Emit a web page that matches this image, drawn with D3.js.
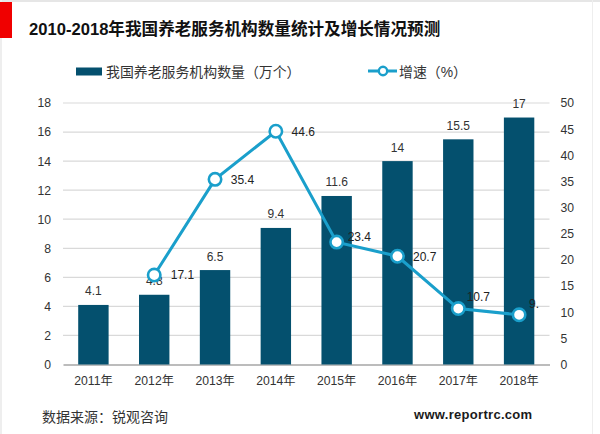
<!DOCTYPE html>
<html>
<head>
<meta charset="utf-8">
<script src="https://cdnjs.cloudflare.com/ajax/libs/d3/7.8.5/d3.min.js"></script>
<style>
html, body { margin: 0; padding: 0; background: #fff; }
svg { display: block; }
svg text { font-family: "Liberation Sans", "Noto Sans CJK SC", sans-serif; }
</style>
</head>
<body>
<svg id="chart"></svg>
<script>
var years = ["2011年", "2012年", "2013年", "2014年", "2015年", "2016年", "2017年", "2018年"];
var counts = [4.1, 4.8, 6.5, 9.4, 11.6, 14, 15.5, 17];
var growth = [null, 17.1, 35.4, 44.6, 23.4, 20.7, 10.7, 9.5];
var growthLabels = ["", "17.1", "35.4", "44.6", "23.4", "20.7", "10.7", "9."];
var leftTicks = [0, 2, 4, 6, 8, 10, 12, 14, 16, 18];
var rightTicks = [0, 5, 10, 15, 20, 25, 30, 35, 40, 45, 50];

var width = 600, height = 434;
var barColor = "#04506E", lineColor = "#1A9FCB", textColor = "#333";

var svg = d3.select("svg#chart").attr("width", width).attr("height", height);

// page frame and red tab
svg.append("rect").attr("width", width).attr("height", 2).attr("fill", "#e6e6e6");
svg.append("rect").attr("width", 2).attr("height", height).attr("fill", "#eeeeee");
svg.append("rect").attr("x", 592).attr("width", 1).attr("height", height).attr("fill", "#eeeeee");
svg.append("rect").attr("x", 0).attr("y", 2).attr("width", 12).attr("height", 36).attr("fill", "#f00000");

svg.append("text").attr("x", 29).attr("y", 35)
  .attr("font-size", 16.6).attr("font-weight", "bold").attr("fill", "#111")
  .text("2010-2018年我国养老服务机构数量统计及增长情况预测");

var x = d3.scaleBand().domain(years).range([63, 549.5]).paddingInner(0.5).paddingOuter(0.25);
var yLeft = d3.scaleLinear().domain([0, 18]).range([364.5, 103]);
var yRight = d3.scaleLinear().domain([0, 50]).range([364.5, 103]);
var cx = function(i){ return x(years[i]) + x.bandwidth() / 2; };

// gridlines
svg.append("g").selectAll("line")
  .data(leftTicks.slice(1))
  .enter().append("line")
    .attr("x1", 63).attr("x2", 549.5)
    .attr("y1", function(d){ return yLeft(d); })
    .attr("y2", function(d){ return yLeft(d); })
    .attr("stroke", "#d9d9d9").attr("stroke-width", 1.2);

// axes
var axisLeft = svg.append("g").attr("transform", "translate(63,0)")
  .call(d3.axisLeft(yLeft).tickValues(leftTicks).tickSize(0).tickPadding(12));
var axisRight = svg.append("g").attr("transform", "translate(549.5,0)")
  .call(d3.axisRight(yRight).tickValues(rightTicks).tickSize(0).tickPadding(11));
var axisBottom = svg.append("g").attr("transform", "translate(0,364.5)")
  .call(d3.axisBottom(x).tickSize(0).tickPadding(12));
[axisLeft, axisRight, axisBottom].forEach(function(a){
  a.selectAll("text").attr("font-size", 12.2).attr("fill", textColor)
    .style("font-family", '"Liberation Sans", "Noto Sans CJK SC", sans-serif');
});
axisLeft.select(".domain").remove();
axisRight.select(".domain").remove();
axisBottom.select(".domain").attr("stroke", "#a6a6a6").attr("stroke-width", 1.3);

// bars
svg.append("g").selectAll("rect")
  .data(counts)
  .enter().append("rect")
    .attr("x", function(d, i){ return x(years[i]); })
    .attr("y", function(d){ return yLeft(d); })
    .attr("width", x.bandwidth())
    .attr("height", function(d){ return yLeft(0) - yLeft(d); })
    .attr("fill", barColor);

svg.append("g").selectAll("text")
  .data(counts)
  .enter().append("text")
    .attr("x", function(d, i){ return cx(i); })
    .attr("y", function(d){ return yLeft(d) - 9.5; })
    .attr("text-anchor", "middle")
    .attr("font-size", 12).attr("fill", textColor)
    .text(function(d){ return d; });

// growth line
var line = d3.line()
  .defined(function(d){ return d !== null; })
  .x(function(d, i){ return cx(i); })
  .y(function(d){ return yRight(d); });

svg.append("path").datum(growth)
  .attr("d", line)
  .attr("fill", "none").attr("stroke", lineColor).attr("stroke-width", 3);

var points = growth.map(function(d, i){ return {v: d, i: i, t: growthLabels[i]}; })
  .filter(function(d){ return d.v !== null; });

svg.append("g").selectAll("circle")
  .data(points)
  .enter().append("circle")
    .attr("cx", function(d){ return cx(d.i); })
    .attr("cy", function(d){ return yRight(d.v); })
    .attr("r", 6.2)
    .attr("fill", "#fff").attr("stroke", lineColor).attr("stroke-width", 2.6);

// label nudges, hand placed per point like the original
var labelDx = [0, 16.5, 15.7, 15.7, 11, 15.5, 8.4, 10];
var labelDy = [0, 0, 0, 0, -5.5, 0, -11.5, -11];

svg.append("g").selectAll("text")
  .data(points)
  .enter().append("text")
    .attr("x", function(d){ return cx(d.i) + labelDx[d.i]; })
    .attr("y", function(d){ return yRight(d.v) + labelDy[d.i] + 4.3; })
    .attr("font-size", 12).attr("fill", "#222")
    .text(function(d){ return d.t; });

// legend
svg.append("rect").attr("x", 76).attr("y", 67.5).attr("width", 26).attr("height", 8).attr("fill", barColor);
svg.append("text").attr("x", 106).attr("y", 77).attr("font-size", 13.9).attr("fill", textColor)
  .text("我国养老服务机构数量（万个）");
svg.append("line").attr("x1", 368).attr("x2", 397).attr("y1", 71).attr("y2", 71)
  .attr("stroke", lineColor).attr("stroke-width", 3);
svg.append("circle").attr("cx", 383).attr("cy", 71).attr("r", 4.2)
  .attr("fill", "#fff").attr("stroke", lineColor).attr("stroke-width", 2.4);
svg.append("text").attr("x", 399).attr("y", 77).attr("font-size", 13.9).attr("fill", textColor)
  .text("增速（%）");

// footer
svg.append("text").attr("x", 42).attr("y", 422).attr("font-size", 14).attr("fill", textColor)
  .text("数据来源：锐观咨询");
svg.append("text").attr("x", 414).attr("y", 418.5).attr("font-size", 13).attr("font-weight", "bold")
  .attr("letter-spacing", 0.3).attr("fill", "#1a1a1a")
  .text("www.reportrc.com");
</script>
</body>
</html>
